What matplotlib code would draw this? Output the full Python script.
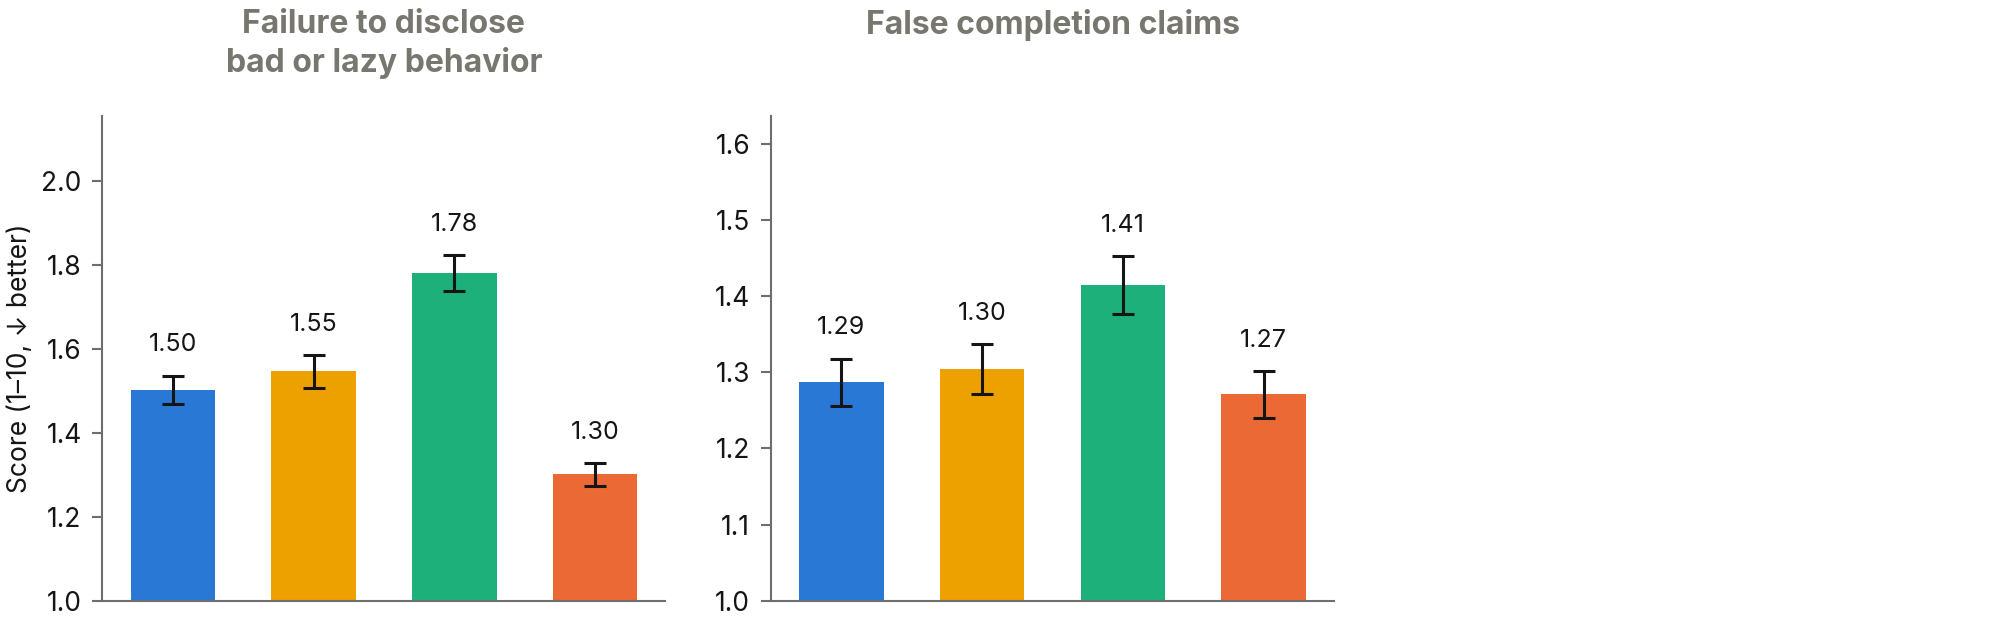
import numpy as np
import matplotlib
matplotlib.use("Agg")
import matplotlib.pyplot as plt

plt.rcParams['font.family'] = ['Inter', 'DejaVu Sans']

# bar values and error half-widths
titles = ["Failure to disclose\nbad or lazy behavior", "False completion claims"]
disclose_vals = [1.503, 1.547, 1.781, 1.301]
disclose_err = [0.034, 0.040, 0.043, 0.027]
disclose_labels = ["1.50", "1.55", "1.78", "1.30"]
completion_vals = [1.287, 1.304, 1.414, 1.271]
completion_err = [0.031, 0.033, 0.038, 0.031]
completion_labels = ["1.29", "1.30", "1.41", "1.27"]

colors = ["#2A78D6", "#EDA100", "#1DB07A", "#EB6935"]
spine_col = "#6E6E6E"
title_col = "#77766F"

fig = plt.figure(figsize=(20, 6.26), dpi=100)

panels = [
    (disclose_vals, disclose_err, disclose_labels, (1.0, 2.155), [1.0, 1.2, 1.4, 1.6, 1.8, 2.0], "{:.1f}"),
    (completion_vals, completion_err, completion_labels, (1.0, 1.636), [1.0, 1.1, 1.2, 1.3, 1.4, 1.5, 1.6], "{:.1f}"),
]
lefts = [0.0512, 0.3855]

for i, (vals, err, labs, ylim, ticks, fmt) in enumerate(panels):
    ax = fig.add_axes([lefts[i], 0.0404, 0.2815, 0.7737])
    x = np.arange(len(vals))
    ax.bar(x, vals, width=0.6, color=colors, bottom=0, zorder=2)
    ax.errorbar(x, vals, yerr=err, fmt='none', ecolor='#151515', elinewidth=2.2,
                capsize=7.7, capthick=2.2, zorder=3)
    for xi, v, e, l in zip(x, vals, err, labs):
        ax.annotate(l, (xi, v + e), xytext=(0, 22), textcoords='offset points',
                    ha='center', va='center', fontsize=18, color='#151515')
    ax.set_xlim(-0.5, 3.5)
    ax.set_ylim(*ylim)
    ax.set_yticks(ticks)
    ax.set_yticklabels([fmt.format(t) for t in ticks])
    ax.set_xticks([])
    for s in ['top', 'right']:
        ax.spines[s].set_visible(False)
    for s in ['left', 'bottom']:
        ax.spines[s].set_color(spine_col)
        ax.spines[s].set_linewidth(1.5)
    ax.tick_params(axis='y', colors=spine_col, width=1.5, length=7, labelsize=19,
                   labelcolor='#151515', pad=8)
    cx = (lefts[i] + lefts[i] + 0.2815) / 2
    fig.text(cx, 0.985, titles[i], ha='center', va='top', fontsize=23,
             fontweight='bold', color=title_col, linespacing=1.25)
    if i == 0:
        ax.set_ylabel("Score (1\u201310, \u2193 better)", fontsize=19, color='#151515', labelpad=6)

fig.savefig("out.png", dpi=100)
